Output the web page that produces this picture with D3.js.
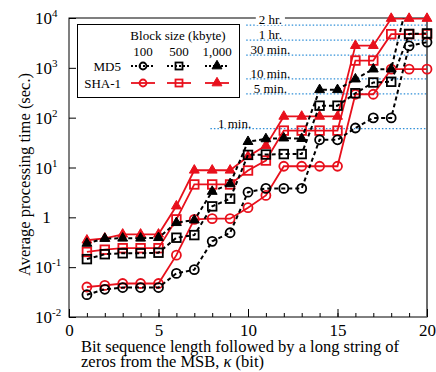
<!DOCTYPE html>
<html>
<head>
<meta charset="utf-8">
<script src="https://cdn.jsdelivr.net/npm/d3@7"></script>
<style>
  body { margin: 0; background: #fff; }
  svg text { font-family: "Liberation Serif", "Times New Roman", serif; fill: #000; }
</style>
</head>
<body>
<div id="chart"></div>
<script>
    // kappa (bit) on the x axis
    const kappa = d3.range(1, 21);

    // average processing time (sec.) per block size
    const md5_100   = [0.028, 0.036, 0.039, 0.039, 0.039, 0.075, 0.089, 0.33, 0.49, 3.2, 3.8, 3.8, 3.8, 36, 36, 62, 99, 99, 2750, 3270];
    const md5_500   = [0.145, 0.182, 0.19, 0.19, 0.195, 0.39, 0.44, 1.66, 2.37, 17.9, 18.2, 18.6, 18.6, 174, 174, 309, 508, 525, 4790, 4900];
    const md5_1000  = [0.30, 0.375, 0.38, 0.38, 0.39, 0.78, 0.88, 3.3, 4.7, 33, 37.5, 38.9, 38, 363, 363, 594, 942, 942, 30000, 35000];
    const sha1_100  = [0.040, 0.043, 0.047, 0.047, 0.047, 0.174, 0.91, 0.94, 0.94, 1.56, 2.75, 10.6, 10.6, 10.6, 10.6, 295, 295, 942, 942, 942];
    const sha1_500  = [0.202, 0.224, 0.24, 0.24, 0.24, 0.91, 4.57, 4.57, 4.57, 8.7, 13.8, 55, 55, 55, 55, 1400, 1400, 4740, 4740, 4740];
    const sha1_1000 = [0.347, 0.38, 0.457, 0.457, 0.457, 1.68, 8.8, 8.8, 8.8, 16.6, 27.5, 106, 106, 106, 106, 2790, 2790, 9770, 9770, 9770];

    const blockSizes = ['100', '500', '1,000'];
    const algorithms = ['MD5', 'SHA-1'];

    // reference times (sec.)
    const refSeconds = [7200, 3600, 1800, 600, 300, 60];
    const refLabels = ['2 hr.', '1 hr.', '30 min.', '10 min.', '5 min.', '1 min.'];
    const refFrom = [9.9, 9.9, 9.9, 9.9, 9.9, 7.9];

    const xTicks = [0, 5, 10, 15, 20];
    const yTicks = [0.01, 0.1, 1, 10, 100, 1000, 10000];
    const yTickExp = ['-2', '-1', '', '1', '2', '3', '4'];

    const series = [
      { alg: 'MD5', size: '100', values: md5_100, shape: 'circle' },
      { alg: 'MD5', size: '500', values: md5_500, shape: 'square' },
      { alg: 'MD5', size: '1,000', values: md5_1000, shape: 'triangle' },
      { alg: 'SHA-1', size: '100', values: sha1_100, shape: 'circle' },
      { alg: 'SHA-1', size: '500', values: sha1_500, shape: 'square' },
      { alg: 'SHA-1', size: '1,000', values: sha1_1000, shape: 'triangle' }
    ];

    const RED = '#e8101c';
    const BLUE = '#2f8fd8';

    const svgWidth = 436;
    const svgHeight = 372;
    const margin = { top: 18, right: 9, bottom: 55, left: 69 };
    const width = svgWidth - margin.left - margin.right;
    const height = svgHeight - margin.top - margin.bottom;

    const svg = d3.select('#chart')
        .append('svg')
        .attr('width', svgWidth)
        .attr('height', svgHeight);

    const g = svg.append('g')
        .attr('transform', `translate(${margin.left},${margin.top})`);

    const xScale = d3.scaleLinear().domain([0, 20]).range([0, width]);
    const yScale = d3.scaleLog().domain([0.01, 10000]).range([height, 0]);

    g.append('clipPath').attr('id', 'plot-clip')
        .append('rect').attr('width', width).attr('height', height);

    // reference lines
    refSeconds.forEach((s, i) => {
        g.append('line')
            .attr('x1', xScale(refFrom[i])).attr('x2', width)
            .attr('y1', yScale(s)).attr('y2', yScale(s))
            .attr('stroke', BLUE).attr('stroke-width', 1.3)
            .attr('stroke-dasharray', '1.5,2');
    });

    // frame
    g.append('rect')
        .attr('width', width).attr('height', height)
        .attr('fill', 'none').attr('stroke', '#000').attr('stroke-width', 1);
    g.append('line')
        .attr('x1', width).attr('x2', width).attr('y1', 0).attr('y2', height)
        .attr('stroke', '#666').attr('stroke-width', 1.5);

    refSeconds.forEach((s, i) => {
        const t = g.append('text')
            .attr('x', xScale(refFrom[i] + 1.35))
            .attr('y', yScale(s) - 1)
            .attr('text-anchor', 'middle')
            .style('font-size', '13px')
            .text(refLabels[i]);
        if (i === 0) {
            const bb = t.node().getBBox();
            g.insert('rect', 'text')
                .attr('x', bb.x - 3).attr('y', bb.y)
                .attr('width', bb.width + 6).attr('height', bb.height - 2)
                .attr('fill', '#fff');
        }
    });

    // axes
    g.append('g')
        .attr('transform', `translate(0,${height})`)
        .call(d3.axisBottom(xScale).tickValues(d3.range(0, 21)).tickSizeInner(-4).tickSizeOuter(0).tickFormat(''));
    const xMajor = g.append('g')
        .attr('transform', `translate(0,${height})`)
        .call(d3.axisBottom(xScale).tickValues(xTicks).tickSizeInner(-8).tickSizeOuter(0).tickPadding(7));
    xMajor.selectAll('text').style('font-size', '17px').style('font-family', '"Liberation Serif", serif');

    g.append('g')
        .call(d3.axisLeft(yScale).tickValues(yTicks).tickSizeInner(-7).tickSizeOuter(0).tickFormat(''));

    g.selectAll('.domain').remove();
    g.selectAll('.tick line').attr('stroke', '#000');

    yTicks.forEach((v, i) => {
        const t = g.append('text')
            .attr('y', yScale(v) + 6)
            .attr('text-anchor', yTickExp[i] === '' ? 'middle' : 'start')
            .style('font-size', '17px');
        if (yTickExp[i] === '') {
            t.attr('x', -22.5).text('1');
        } else {
            t.attr('x', -34).text('10');
            t.append('tspan').attr('dy', -7).style('font-size', '11px').text(yTickExp[i]);
        }
    });

    // axis titles
    svg.append('text')
        .attr('x', 81).attr('y', 352)
        .style('font-size', '16.5px')
        .text('Bit sequence length followed by a long string of');
    const t2 = svg.append('text')
        .attr('x', 81).attr('y', 367)
        .style('font-size', '16.5px')
        .text('zeros from the MSB,  ');
    t2.append('tspan').style('font-style', 'italic').text('κ');
    t2.append('tspan').text('  (bit)');
    svg.append('text')
        .attr('transform', `translate(30,${margin.top + height / 2 + 7}) rotate(-90)`)
        .attr('text-anchor', 'middle')
        .style('font-size', '16.5px')
        .text('Average processing time (sec.)');

    // markers
    function drawMarker(sel, shape, color) {
        if (shape === 'circle') {
            sel.append('circle').attr('r', 4.5)
                .attr('fill', 'none').attr('stroke', color).attr('stroke-width', 1.8);
        } else if (shape === 'square') {
            sel.append('rect').attr('x', -4.3).attr('y', -4.3).attr('width', 8.6).attr('height', 8.6)
                .attr('fill', 'none').attr('stroke', color).attr('stroke-width', 1.8);
        } else {
            sel.append('path').attr('d', d3.symbol(d3.symbolTriangle, 42)())
                .attr('fill', color).attr('stroke', color).attr('stroke-width', 1);
        }
    }

    const line = d3.line()
        .x((d, i) => xScale(kappa[i]))
        .y(d => yScale(d));

    const order = [3, 4, 5, 0, 1, 2];
    order.forEach(idx => {
        const s = series[idx];
        const color = s.alg === 'MD5' ? '#000' : RED;
        const sg = g.append('g');
        sg.append('path')
            .datum(s.values)
            .attr('d', line)
            .attr('clip-path', 'url(#plot-clip)')
            .attr('fill', 'none')
            .attr('stroke', color)
            .attr('stroke-width', s.alg === 'MD5' ? 2 : 1.8)
            .attr('stroke-dasharray', s.alg === 'MD5' ? '4,3' : null);
        s.values.forEach((v, i) => {
            if (v > 10000) return;
            const m = sg.append('g')
                .attr('transform', `translate(${xScale(kappa[i])},${yScale(v)})`);
            drawMarker(m, s.shape, color);
        });
    });

    // legend
    const lg = svg.append('g');
    lg.append('rect')
        .attr('x', 77.5).attr('y', 24.5).attr('width', 162).attr('height', 73)
        .attr('fill', '#fff').attr('stroke', '#000').attr('stroke-width', 1);
    lg.append('text').attr('x', 178).attr('y', 40).attr('text-anchor', 'middle')
        .style('font-size', '13px').text('Block size (kbyte)');
    const colX = [143, 179, 217];
    blockSizes.forEach((b, j) => {
        lg.append('text').attr('x', colX[j]).attr('y', 56).attr('text-anchor', 'middle')
            .style('font-size', '13px').text(b);
    });
    const rowY = [66, 83];
    algorithms.forEach((a, r) => {
        lg.append('text').attr('x', 121).attr('y', rowY[r] + 4.5).attr('text-anchor', 'end')
            .style('font-size', '13px').text(a);
        const color = a === 'MD5' ? '#000' : RED;
        blockSizes.forEach((b, j) => {
            const s = series.find(d => d.alg === a && d.size === b);
            lg.append('line')
                .attr('x1', colX[j] - 12).attr('x2', colX[j] + 12)
                .attr('y1', rowY[r]).attr('y2', rowY[r])
                .attr('stroke', color).attr('stroke-width', a === 'MD5' ? 2 : 1.8)
                .attr('stroke-dasharray', a === 'MD5' ? '2,2' : null);
            const m = lg.append('g').attr('transform', `translate(${colX[j]},${rowY[r]})`);
            drawMarker(m, s.shape, color);
            m.selectAll('circle').attr('r', 3.5);
            m.selectAll('rect').attr('x', -3.5).attr('y', -3.5).attr('width', 7).attr('height', 7);
        });
    });
</script>
</body>
</html>
